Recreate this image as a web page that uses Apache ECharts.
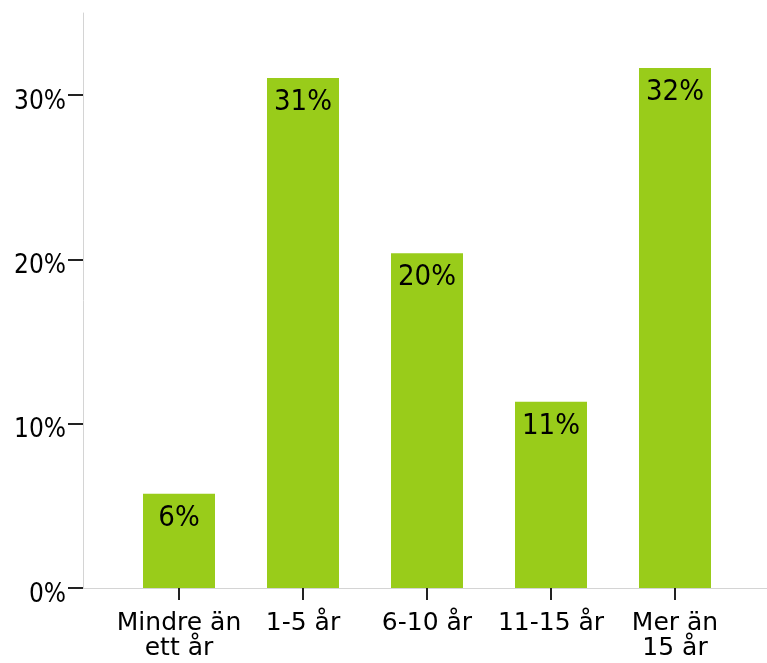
<!DOCTYPE html>
<html>
<head>
<meta charset="utf-8">
<script src="https://cdn.jsdelivr.net/npm/echarts@6/dist/echarts.min.js"></script>
<style>
html,body{margin:0;padding:0;background:#fff;}
#chart{width:767px;height:663px;}
</style>
</head>
<body>
<div id="chart"></div>
<script>
const categories = ['Mindre än\nett år', '1-5 år', '6-10 år', '11-15 år', 'Mer än\n15 år'];
const values = [5.73, 31.04, 20.37, 11.34, 31.65];
const yTickValues = [0, 10, 20, 30];
const yMax = 35;

const chart = echarts.init(document.getElementById('chart'), null, {renderer: 'canvas'});
chart.setOption({
  animation: false,
  backgroundColor: '#ffffff',
  grid: [
    {left: 117, right: 30, top: 13, bottom: 75},
    {left: 83, right: 0, top: 13, bottom: 75}
  ],
  xAxis: [
    {
      type: 'category',
      gridIndex: 0,
      data: categories,
      axisLine: {show: false},
      axisTick: {show: true, alignWithLabel: true, length: 12, lineStyle: {color: '#222', width: 2}},
      axisLabel: {
        margin: 23, color: '#000', fontFamily: 'DejaVu Sans', fontSize: 25, lineHeight: 25, interval: 0
      },
      splitLine: {show: false}
    },
    {
      type: 'value',
      gridIndex: 1,
      min: 0, max: 1,
      axisLine: {show: true, lineStyle: {color: '#d4d4d4', width: 1}},
      axisTick: {show: false},
      axisLabel: {show: false},
      splitLine: {show: false}
    }
  ],
  yAxis: [
    {
      type: 'value',
      gridIndex: 0,
      min: 0, max: yMax,
      show: false,
      splitLine: {show: false}
    },
    {
      type: 'value',
      gridIndex: 1,
      min: 0, max: yMax,
      axisLine: {show: true, lineStyle: {color: '#d4d4d4', width: 1}},
      axisTick: {show: true, length: 15, customValues: yTickValues, lineStyle: {color: '#222', width: 2}},
      axisLabel: {
        customValues: yTickValues,
        margin: 17, color: '#000', fontFamily: 'DejaVu Sans Condensed', fontSize: 26,
        verticalAlign: 'top', lineHeight: 14,
        formatter: v => v + '%'
      },
      splitLine: {show: false}
    }
  ],
  series: [
    {
      type: 'bar',
      xAxisIndex: 0,
      yAxisIndex: 0,
      data: values,
      barWidth: 72,
      itemStyle: {color: '#99cc1a'},
      label: {
        show: true,
        position: 'insideTop',
        distance: 10,
        color: '#000',
        fontFamily: 'DejaVu Sans Condensed',
        fontSize: 29,
        formatter: p => Math.round(p.value) + '%'
      }
    }
  ]
});
</script>
</body>
</html>
